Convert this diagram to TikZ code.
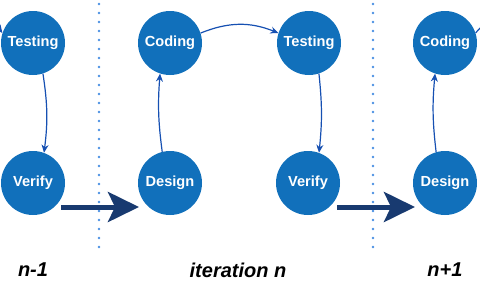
\documentclass[tikz,border=0pt]{standalone}
\usepackage{fontspec}
\setmainfont{Liberation Sans}
\usetikzlibrary{arrows.meta,calc}
\definecolor{nodeblue}{RGB}{17,112,187}
\definecolor{linkblue}{RGB}{22,80,178}
\definecolor{navy}{RGB}{24,58,112}
\definecolor{dotblue}{RGB}{74,144,226}
\tikzset{
  stage/.style={circle, fill=nodeblue, minimum size=64pt, inner sep=0pt, text=white,
    font=\fontsize{14.6}{14.6}\selectfont\bfseries},
  link/.style={draw=linkblue, line width=1.2pt, -{Stealth[length=8pt,width=7pt]}},
  bigarrow/.style={draw=navy, line width=5pt, -{Stealth[length=31pt,width=30pt,inset=7pt]}},
  divider/.style={draw=dotblue, line width=2.6pt, dash pattern=on 0pt off 9pt, line cap=round},
  iterlabel/.style={font=\fontsize{20}{20}\selectfont\bfseries\itshape, text=black}
}
\begin{document}
\begin{tikzpicture}[x=1pt,y=-1pt]
\useasboundingbox (0,0) rectangle (480,290);
% dividers
\draw[divider] (99,4) -- (99,248);
\draw[divider] (373,4) -- (373,248);
% nodes
\node[stage] (t0) at (33,43) {Testing};
\node[stage] (v0) at (33,183) {Verify};
\node[stage] (c1) at (170,43) {Coding};
\node[stage] (d1) at (170,183) {Design};
\node[stage] (t1) at (309,43) {Testing};
\node[stage] (v1) at (308,183) {Verify};
\node[stage] (c2) at (445,43) {Coding};
\node[stage] (d2) at (445,183) {Design};
\coordinate (inL) at (-6,25);
\coordinate (outR) at (484,25);
% thin links
\draw[link] (inL) to[bend left=10] (t0.162);
\draw[link] (t0.-72) to[bend left=8] (v0.70);
\draw[link] (d1.104) to[bend left=6] (c1.-108);
\draw[link] (c1.18) to[bend left=22] (t1.162);
\draw[link] (t1.-72) to[bend left=6] (v1.70);
\draw[link] (d2.106) to[bend left=6] (c2.-108);
\draw[link, -] (c2.18) to[bend left=8] (outR);
% big arrows
\draw[bigarrow] ($(v0)+(28,24)$) -- ($(d1)+(-31,24)$);
\draw[bigarrow] ($(v1)+(29,24)$) -- ($(d2)+(-30,24)$);
% labels
\node[iterlabel] (l0) at (33,270) {n-1};
\node[iterlabel] (l1) at (238,270) {iteration n};
\node[iterlabel] (l2) at (445,270) {n+1};
\end{tikzpicture}
\end{document}
